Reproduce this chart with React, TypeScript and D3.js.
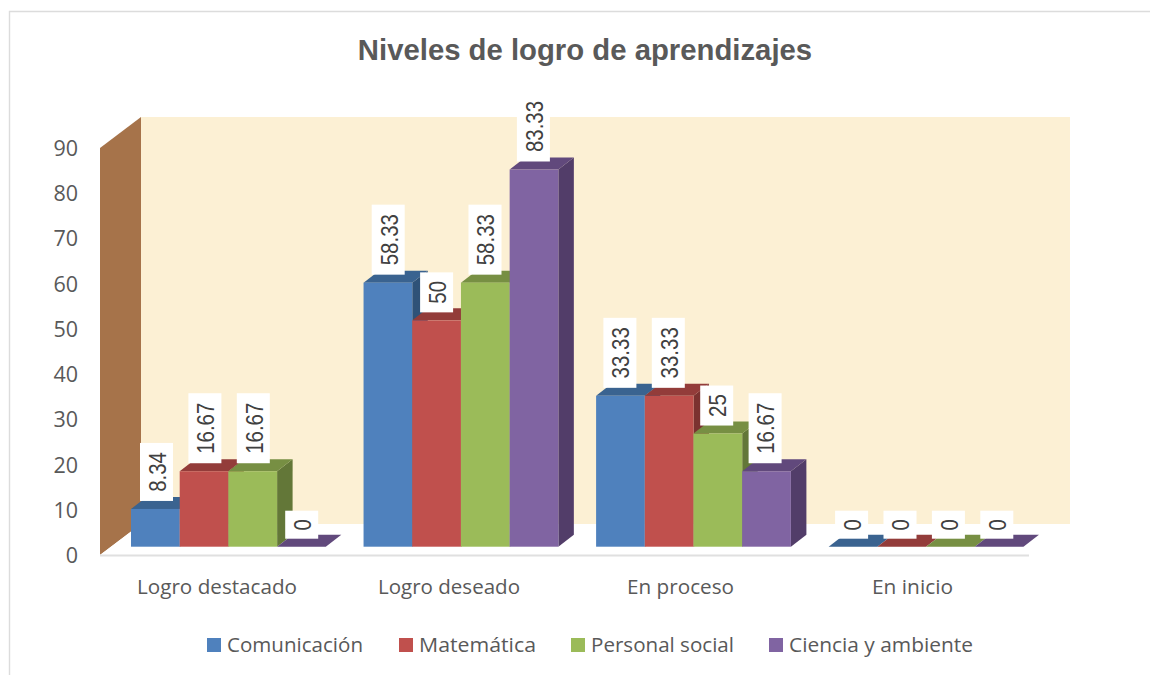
import React from "react";
import * as d3 from "d3";

const categories = ["Logro destacado", "Logro deseado", "En proceso", "En inicio"];
const seriesNames = ["Comunicación", "Matemática", "Personal social", "Ciencia y ambiente"];
const comunicacion = [8.34, 58.33, 33.33, 0];
const matematica = [16.67, 50, 33.33, 0];
const personalSocial = [16.67, 58.33, 25, 0];
const cienciaAmbiente = [0, 83.33, 16.67, 0];
const yTicks = [0, 10, 20, 30, 40, 50, 60, 70, 80, 90];
const seriesValues = [comunicacion, matematica, personalSocial, cienciaAmbiente];
const front = ["#4f81bd", "#c0504d", "#9bbb59", "#8064a2"];
const topFace = ["#3a6390", "#933c3a", "#778f43", "#61497c"];
const sideFace = ["#2f5278", "#7b3230", "#637738", "#523d69"];

const W = 1150, H = 675;
const DX = 15.5, DY = 12;
const BASE = 546.7;
const AX = "'Open Sans', sans-serif";
const LB = "'Liberation Sans', Arial, sans-serif";

export default function App() {
  const x0 = d3.scaleBand<string>().domain(categories).range([81, 81 + 232.55 * 4]);
  const bw = 48.7;
  const x1 = d3.scaleBand<number>().domain([0, 1, 2, 3]).range([50, 50 + bw * 4]);
  const labelX0 = d3.scaleBand<string>().domain(categories).range([156.5, 156.5 + 231.7 * 4]);
  const labelX1 = d3.scaleBand<number>().domain([0, 1, 2, 3]).range([0, 48.4 * 4]);
  const h = d3.scaleLinear().domain([0, 90]).range([0, 407.4]);
  const yAxis = d3.scaleLinear().domain([0, 90]).range([555, 148]);
  const catSpan = [[137, 160], [378, 142], [627, 107], [872, 81]];
  const legendSwatch = [207, 399, 571, 769];
  const legendSpan = [136, 117, 143, 184];

  const bars = categories.flatMap((c, ci) => seriesValues.map((vals, si) => ({ c, ci, si, v: vals[ci] })));

  return (
    <svg width={W} height={H} style={{ position: "absolute", left: 0, top: 0, background: "#fff" }}>
      <path d="M9.5,675V11.5H1150" fill="none" stroke="#dcdcdc" strokeWidth={1.4} />
      <text x={585} y={60} textAnchor="middle" fontFamily={LB} fontWeight={700} fontSize={29.3} fill="#595959">Niveles de logro de aprendizajes</text>

      <rect x={141} y={117} width={929} height={407} fill="#fcf0d4" />
      <polygon points="100,555 100,148 141,117 141,524" fill="#a6734a" />
      <polygon points="100,555 141,524 1070,524 1029,555" fill="#ffffff" />
      <line x1={100} x2={1029} y1={555.5} y2={555.5} stroke="#e0e0e0" strokeWidth={2} />

      {yTicks.map((t) => (
        <text key={t} x={78} y={yAxis(t) + 8} textAnchor="end" fontFamily={AX} fontSize={21.5} fill="#595959">{t}</text>
      ))}

      {bars.map((b) => {
        const x = x0(b.c)! + x1(b.si)!;
        const hh = h(b.v);
        const y = BASE - hh;
        return (
          <g key={`${b.ci}-${b.si}`}>
            <polygon points={`${x + bw},${BASE} ${x + bw + DX},${BASE - DY} ${x + bw + DX},${y - DY} ${x + bw},${y}`} fill={sideFace[b.si]} />
            <polygon points={`${x},${y} ${x + DX},${y - DY} ${x + bw + DX},${y - DY} ${x + bw},${y}`} fill={topFace[b.si]} />
            <rect x={x} y={y} width={bw} height={hh} fill={front[b.si]} />
          </g>
        );
      })}

      {bars.map((b) => {
        const cx = labelX0(b.c)! + labelX1(b.si)!;
        const y = BASE - h(b.v) - 8;
        const label = String(b.v);
        const len = label.length === 1 ? 28 : label.length === 2 ? 40 : label.length === 4 ? 58 : 70;
        return (
          <g key={`l${b.ci}-${b.si}`}>
            <rect x={cx - 16.5} y={y - len} width={33} height={len} fill="#fff" />
            <text transform={`translate(${cx + 9.3},${y - len / 2}) rotate(-90) scale(0.89,1)`} textAnchor="middle" fontFamily={LB} fontSize={23} fill="#404040">{label}</text>
          </g>
        );
      })}

      {categories.map((c, i) => (
        <text key={c} x={catSpan[i][0]} y={593.5} textLength={catSpan[i][1]} lengthAdjust="spacingAndGlyphs" fontFamily={AX} fontSize={20.6} fill="#595959">{c}</text>
      ))}

      {seriesNames.map((s, i) => (
        <g key={s}>
          <rect x={legendSwatch[i]} y={638} width={14} height={14} fill={front[i]} />
          <text x={legendSwatch[i] + 20} y={652} textLength={legendSpan[i]} lengthAdjust="spacingAndGlyphs" fontFamily={AX} fontSize={20.7} fill="#595959">{s}</text>
        </g>
      ))}
    </svg>
  );
}
